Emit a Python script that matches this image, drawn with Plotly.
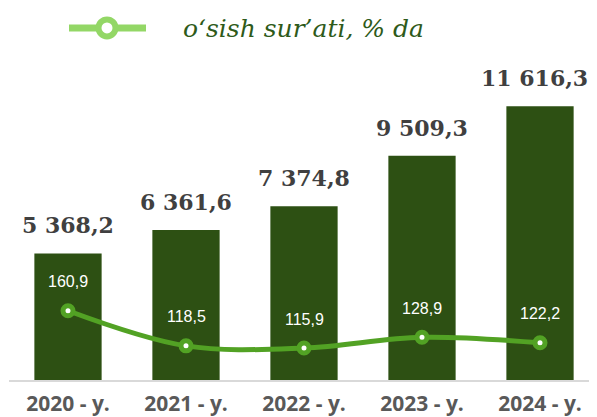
import plotly.graph_objects as go

categories = ["2020 - y.", "2021 - y.", "2022 - y.", "2023 - y.", "2024 - y."]
volume = [5368.2, 6361.6, 7374.8, 9509.3, 11616.3]
volume_labels = ["5 368,2", "6 361,6", "7 374,8", "9 509,3", "11 616,3"]
growth = [160.9, 118.5, 115.9, 128.9, 122.2]
growth_labels = ["160,9", "118,5", "115,9", "128,9", "122,2"]
legend_label = "o‘sish sur’ati, % da"

BAR = "#2d5013"
LINE = "#52a224"
LEG = "#93d766"

# page body has an 8px margin: work in reference pixels, offset by OFF
OFF = 8
FW, FH = 597 - OFF, 417 - OFF

fig = go.Figure()
fig.add_trace(go.Bar(x=categories, y=volume, marker=dict(color=BAR, line=dict(width=0)),
                     width=0.57, showlegend=False, hoverinfo="skip"))
fig.add_trace(go.Scatter(x=categories, y=growth, yaxis="y2", mode="lines+markers",
                         line=dict(color=LINE, width=5, shape="spline", smoothing=1.0),
                         marker=dict(symbol="circle", size=10, color="white",
                                     line=dict(color=LINE, width=5)),
                         showlegend=False, hoverinfo="skip"))

ann = []
n = len(categories)
for i, (c, v, t) in enumerate(zip(categories, volume, volume_labels)):
    ann.append(dict(x=c, y=v, xref="x", yref="y", text=t, showarrow=False,
                    yanchor="middle", yshift=28, xshift=(-6 if i == n - 1 else 0),
                    font=dict(family="DejaVu Serif", size=22, color="#404040", weight="bold")))
for c, v, t in zip(categories, growth, growth_labels):
    ann.append(dict(x=c, y=v, xref="x", yref="y2", text=t, showarrow=False,
                    yanchor="middle", yshift=29,
                    font=dict(family="Liberation Sans", size=16, color="white")))

# plot area in reference pixels
L, T, W, H = 9, 50, 588, 329
def px(x):
    return (x - L) / W
def py(y):
    return (T + H - y) / H

ann.append(dict(x=px(181), y=py(29), xref="paper", yref="paper", text=legend_label,
                showarrow=False, xanchor="left", yanchor="middle",
                font=dict(family="DejaVu Serif", size=25, color="#2e5a1a", style="italic")))

shapes = [
    dict(type="line", xref="paper", yref="paper", x0=px(69), x1=px(146), y0=py(28), y1=py(28),
         line=dict(color=LEG, width=7)),
    dict(type="circle", xref="paper", yref="paper", x0=px(107 - 8.5), x1=px(107 + 8.5),
         y0=py(28 + 8.5), y1=py(28 - 8.5), fillcolor="white", line=dict(color=LEG, width=6)),
]

fig.update_layout(
    width=FW, height=FH,
    margin=dict(l=L - OFF, r=597 - L - W, t=T - OFF, b=417 - T - H - OFF),
    paper_bgcolor="white", plot_bgcolor="white",
    showlegend=False,
    annotations=ann, shapes=shapes,
    xaxis=dict(type="category", range=[-0.5, 4.483], showgrid=False, showline=True,
               linecolor="#d9d9d9", linewidth=2, ticks="", ticklabelstandoff=4,
               tickfont=dict(family="Open Sans", size=21, color="#595959", weight="bold")),
    yaxis=dict(range=[0, 14000], visible=False, showgrid=False, fixedrange=True),
    yaxis2=dict(range=[77.26, 476], overlaying="y", visible=False, showgrid=False),
)
fig.write_html("out.html")
